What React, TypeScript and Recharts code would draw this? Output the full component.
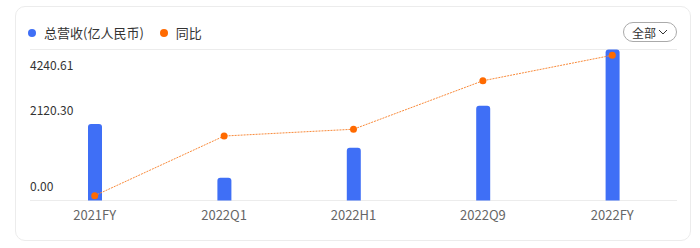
import React from "react";
import { ComposedChart, Bar, Line, XAxis, YAxis, CartesianGrid } from "recharts";

const categories = ["2021FY", "2022Q1", "2022H1", "2022Q9", "2022FY"];
const revenue = [2148, 640, 1483, 2662, 4240.61];
const yoy = [3.2, 42.7, 47.2, 79.3, 96.2];
const yTicks = [0, 2120.3, 4240.61];

const FONT = '"Microsoft YaHei", "Noto Sans CJK SC", "Noto Sans", sans-serif';

function YTick(props: any) {
  const { x, y, payload, index } = props;
  // labels sit above their gridline, except the top one which sits below
  const top = index === yTicks.length - 1;
  return (
    <text x={30} y={top ? y + 20 : y - 10} fill="#333" fontSize={12} fontFamily={FONT} textAnchor="start">
      {payload.value.toFixed(2)}
    </text>
  );
}

export default function App() {
  const data = categories.map((c, i) => ({ name: c, revenue: revenue[i], yoy: yoy[i] }));

  return (
    <div style={{ position: "fixed", left: 0, top: 0, width: 700, height: 248, background: "#fff", fontFamily: FONT }}>
      <div
        style={{
          position: "absolute",
          left: 15,
          top: 6,
          width: 676,
          height: 235,
          border: "1px solid #ececec",
          borderRadius: 10,
          boxSizing: "border-box"
        }}
      />
      {/* Legend */}
      <div style={{ position: "absolute", left: 28, top: 23, display: "flex", alignItems: "center", fontSize: 13, color: "#333" }}>
        <span style={{ width: 8, height: 8, borderRadius: 4, background: "#3f6ff6", display: "inline-block", marginRight: 8 }} />
        <span>总营收(亿人民币)</span>
        <span style={{ width: 8, height: 8, borderRadius: 4, background: "#ff6a00", display: "inline-block", marginLeft: 16, marginRight: 8 }} />
        <span>同比</span>
      </div>
      {/* Range button */}
      <div
        style={{
          position: "absolute",
          left: 623,
          top: 22,
          width: 54,
          height: 20,
          boxSizing: "border-box",
          border: "1px solid #aaa",
          borderRadius: 10,
          display: "flex",
          alignItems: "center",
          justifyContent: "center",
          fontSize: 12,
          color: "#333"
        }}
      >
        <span>全部</span>
        <svg width="10" height="8" style={{ marginLeft: 2 }}>
          <polyline points="1,2 5,6 9,2" fill="none" stroke="#333" strokeWidth="1" />
        </svg>
      </div>

      <div style={{ position: "absolute", left: 0, top: 0 }}>
        <ComposedChart
          width={700}
          height={248}
          data={data}
          margin={{ top: 49.5, left: 30, right: 23, bottom: 17.5 }}
        >
          <CartesianGrid vertical={false} stroke="#ececec" />
          <XAxis
            dataKey="name"
            axisLine={false}
            tickLine={false}
            height={30}
            tick={{ fill: "#666", fontSize: 13, fontFamily: FONT }}
            tickMargin={4}
          />
          <YAxis
            yAxisId="l"
            domain={[0, 4240.61]}
            ticks={yTicks}
            mirror
            axisLine={false}
            tickLine={false}
            tick={<YTick />}
          />
          <YAxis yAxisId="r" orientation="right" hide domain={[0, 100]} />
          <Bar yAxisId="l" dataKey="revenue" fill="#3f6ff6" barSize={14} radius={[3, 3, 0, 0]} isAnimationActive={false} />
          <Line
            yAxisId="r"
            dataKey="yoy"
            type="linear"
            stroke="#f98a3a"
            strokeWidth={1}
            strokeDasharray="2 1"
            dot={{ r: 3.5, fill: "#ff6a00", stroke: "none" }}
            activeDot={false}
            isAnimationActive={false}
          />
        </ComposedChart>
      </div>
    </div>
  );
}
